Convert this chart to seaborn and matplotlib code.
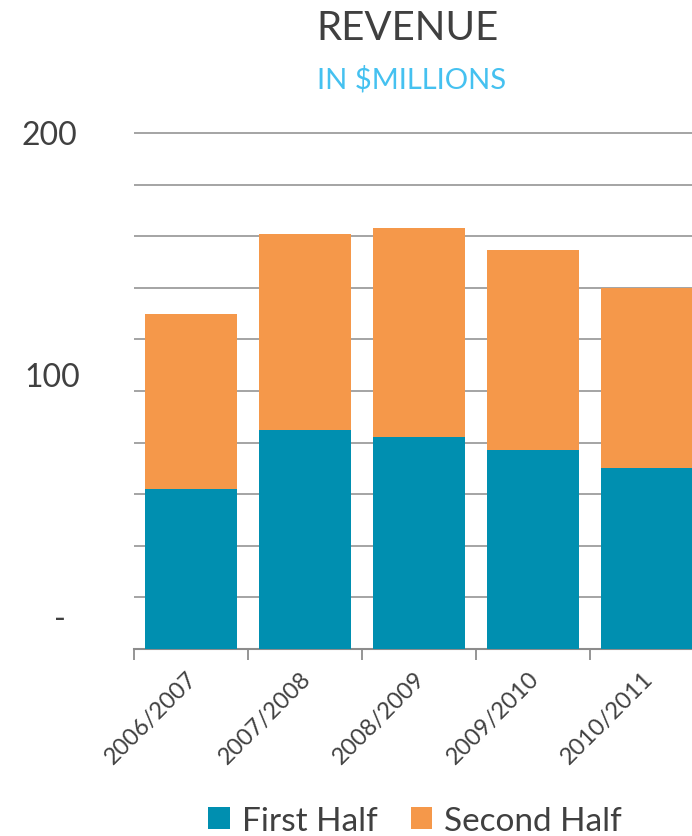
import matplotlib
matplotlib.use("Agg")
import matplotlib.pyplot as plt
import matplotlib.transforms as mtransforms
from matplotlib.patches import Patch
import seaborn as sns
import pandas as pd

# Revenue by fiscal year, split into halves ($ millions)
categories = ["2006/2007", "2007/2008", "2008/2009", "2009/2010", "2010/2011"]
first_half = [62, 85, 82, 77, 70]
second_half = [68, 76, 81, 77.5, 70]
series_names = ["First Half", "Second Half"]
ytick_values = [0, 100, 200]
ytick_labels = ["-", "100", "200"]

TEAL = "#008FB0"
ORANGE = "#F5984A"
TEXT = "#404040"
GRID = "#8C8C8C"

sns.set_theme(style="white")
plt.rcParams["font.family"] = ["Lato", "DejaVu Sans"]

df = pd.DataFrame({
    "year": categories,
    "first": first_half,
    "total": [a + b for a, b in zip(first_half, second_half)],
})

W, H = 692, 837
fig = plt.figure(figsize=(W / 100, H / 100), dpi=100)
ax_left, ax_right = 134 / W, 704 / W
ax_bottom = 1 - 650 / H
ymax = 201
ax_top = 1 - (650 - 2.58 * ymax) / H
ax = fig.add_axes([ax_left, ax_bottom, ax_right - ax_left, ax_top - ax_bottom])

# Stacked bars: full total in orange, first half drawn over it in teal
sns.barplot(data=df, x="year", y="total", color=ORANGE, width=0.81,
            saturation=1, linewidth=0, ax=ax, zorder=2)
sns.barplot(data=df, x="year", y="first", color=TEAL, width=0.81,
            saturation=1, linewidth=0, ax=ax, zorder=3)

ax.set_xlim(-0.5, len(categories) - 0.5)
ax.set_ylim(0, ymax)
ax.set_xlabel("")
ax.set_ylabel("")

# Horizontal gridlines every 20
ax.set_yticks(list(range(0, 201, 20)))
ax.set_yticklabels([ytick_labels[ytick_values.index(v)] if v in ytick_values else ""
                    for v in range(0, 201, 20)])
ax.grid(axis="y", color=GRID, linewidth=1.1, zorder=0)
ax.grid(axis="x", visible=False)
ax.set_axisbelow(True)
ax.tick_params(axis="y", length=0, pad=60, labelsize=23, labelcolor=TEXT)
for lab in ax.get_yticklabels():
    lab.set_horizontalalignment("center")
    txt = lab.get_text()
    dx, dy = {"100": (2, 17), "-": (9, 33), "200": (-1, 1)}.get(txt, (0, 0))
    lab.set_transform(lab.get_transform() +
                      mtransforms.ScaledTranslation(dx / 100, dy / 100, fig.dpi_scale_trans))

# Category labels with boundary tick marks
ax.set_xticks(range(len(categories)))
ax.set_xticklabels(categories, rotation=45, ha="right", rotation_mode="anchor")
ax.set_xticks([i - 0.5 for i in range(len(categories) + 1)], minor=True)
ax.tick_params(axis="x", which="major", length=0, pad=13, labelsize=17, labelcolor=TEXT)
ax.tick_params(axis="x", which="minor", length=8, width=1.3, color=GRID, bottom=True)
for lab in ax.get_xticklabels():
    lab.set_transform(lab.get_transform() +
                      mtransforms.ScaledTranslation(-0.05, 0, fig.dpi_scale_trans))

for side in ["left", "right", "top"]:
    ax.spines[side].set_visible(False)
ax.spines["bottom"].set_color(GRID)
ax.spines["bottom"].set_linewidth(1.5)

fig.text(408 / W, 1 - 28 / H, "REVENUE", ha="center", va="center",
         fontsize=29, color=TEXT)
fig.text(412 / W, 1 - 80 / H, "IN $MILLIONS", ha="center", va="center",
         fontsize=21, color="#45C1F0")

handles = [Patch(facecolor=TEAL, edgecolor="none"),
           Patch(facecolor=ORANGE, edgecolor="none")]
fig.legend(handles, series_names, loc="center", ncol=2,
           bbox_to_anchor=(415 / W, 1 - 822 / H), frameon=False,
           fontsize=24, labelcolor=TEXT, handlelength=0.65, handleheight=0.65,
           handletextpad=0.35, columnspacing=1.0, borderaxespad=0, borderpad=0)

fig.savefig("out.png", dpi=100)
